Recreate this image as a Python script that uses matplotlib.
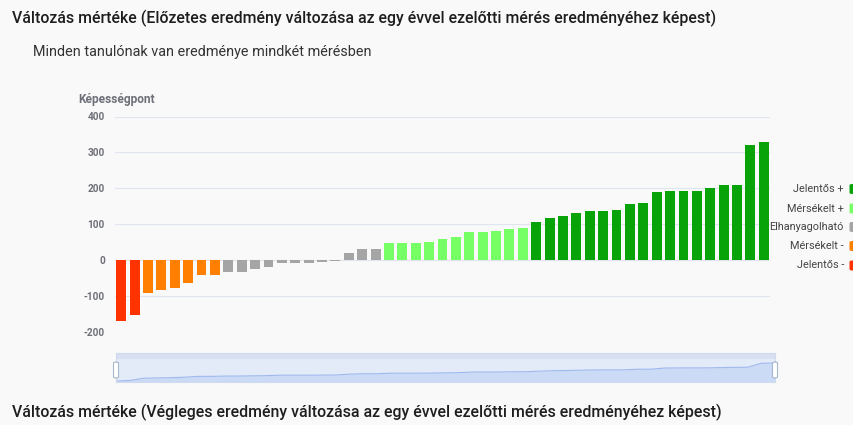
import matplotlib
matplotlib.use('Agg')
import matplotlib.pyplot as plt
from matplotlib.patches import Rectangle, FancyBboxPatch

plt.rcParams['font.family'] = ['Roboto', 'DejaVu Sans']

# adatok
red_vals = [-172, -155]
orange_vals = [-93, -85, -78, -65, -41, -41]
gray_vals = [-33, -33, -26, -21, -9, -8, -8, -6, -3, 20, 31, 31]
lgreen_vals = [46, 46, 46, 50, 57, 63, 78, 79, 80, 87, 88]
dgreen_vals = [105, 117, 122, 131, 137, 137, 139, 155, 158, 189, 192, 193,
               193, 201, 208, 210, 320, 329]

legend_labels = ['Jelentős +', 'Mérsékelt +', 'Elhanyagolható', 'Mérsékelt -', 'Jelentős -']
yticks = [-200, -100, 0, 100, 200, 300, 400]

c_red = '#ff3300'
c_orange = '#ff7f00'
c_gray = '#a5a5a5'
c_lgreen = '#77ff66'
c_dgreen = '#08a308'

W, H = 854, 425
bg = '#f9f9f9'

def fx(x):
  return x / W

def fy(y):
  return 1 - y / H

fig = plt.figure(figsize=(W / 100, H / 100), dpi=100, facecolor=bg)

fig.text(fx(12), fy(18), 'Változás mértéke (Előzetes eredmény változása az egy évvel ezelőtti mérés eredményéhez képest)',
         fontsize=11.4, color='#1e1e1e', fontweight='medium', va='center', ha='left')
fig.text(fx(33), fy(52), 'Minden tanulónak van eredménye mindkét mérésben',
         fontsize=10.4, color='#333333', va='center', ha='left')
fig.text(fx(12), fy(412), 'Változás mértéke (Végleges eredmény változása az egy évvel ezelőtti mérés eredményéhez képest)',
         fontsize=11.4, color='#1e1e1e', fontweight='medium', va='center', ha='left')
fig.text(fx(78), fy(100), 'Képességpont', fontsize=8.6, color='#6e7079',
         fontweight='bold', va='center', ha='left')

# fő diagram
groups = [(red_vals, c_red), (orange_vals, c_orange), (gray_vals, c_gray),
          (lgreen_vals, c_lgreen), (dgreen_vals, c_dgreen)]
values = []
colors = []
for vals, col in groups:
  values += vals
  colors += [col] * len(vals)
xs = list(range(len(values)))

ax = fig.add_axes([fx(114.5), fy(331.5), (770.5 - 114.5) / W, 215 / H])
ax.set_facecolor(bg)
ax.bar(xs, values, width=0.74, color=colors, zorder=3)
ax.set_xlim(-0.5, len(values) - 0.5)
ax.set_ylim(-200, 400)
ax.set_yticks(yticks)
ax.set_yticklabels([str(t) for t in yticks])
ax.tick_params(axis='y', length=0, pad=7, labelsize=7.2, labelcolor='#6e7079')
for lab in ax.get_yticklabels():
  lab.set_fontweight('bold')
ax.set_xticks([])
ax.grid(axis='y', color='#e0e6f1', linewidth=0.8, zorder=0)
for s in ax.spines.values():
  s.set_visible(False)

# jelmagyarázat
leg_colors = [c_dgreen, c_lgreen, c_gray, c_orange, c_red]
leg_y = [189, 208.5, 227, 246, 265.5]
for lab, col, y in zip(legend_labels, leg_colors, leg_y):
  fig.text(fx(844), fy(y), lab, fontsize=7.8, color='#444444', ha='right', va='center')
  fig.patches.append(FancyBboxPatch((fx(849.5), fy(y + 5)), 20 / W, 10 / H,
                                    boxstyle='round,pad=0,rounding_size=0.003',
                                    transform=fig.transFigure, facecolor=col,
                                    edgecolor='none'))

# adatnagyító csúszka
sax = fig.add_axes([fx(116), fy(382), (775 - 116) / W, 29 / H])
sax.set_facecolor('#e3eaf8')
sax.set_xlim(0, len(values) - 1)
lo = min(values)
hi = max(values)
sax.set_ylim(lo - (hi - lo) * 0.05, hi + (hi - lo) * 0.55)
sax.fill_between(xs, lo - (hi - lo) * 0.05, values, color='#cbdaf5', lw=0)
sax.plot(xs, values, color='#9fb9ef', lw=0.8)
sax.set_xticks([])
sax.set_yticks([])
for s in sax.spines.values():
  s.set_color('#d2dbee')
  s.set_linewidth(0.8)
sax.add_patch(Rectangle((0, 0.78), 1, 0.22, transform=sax.transAxes,
                        facecolor='#d7dff0', edgecolor='none'))
for hx in [116, 775]:
  fig.patches.append(FancyBboxPatch((fx(hx - 2.5), fy(378)), 5 / W, 16 / H,
                                    boxstyle='round,pad=0,rounding_size=0.003',
                                    transform=fig.transFigure, facecolor='white',
                                    edgecolor='#a7b7cc', linewidth=0.8))

fig.savefig('out.png', dpi=100, facecolor=bg)
